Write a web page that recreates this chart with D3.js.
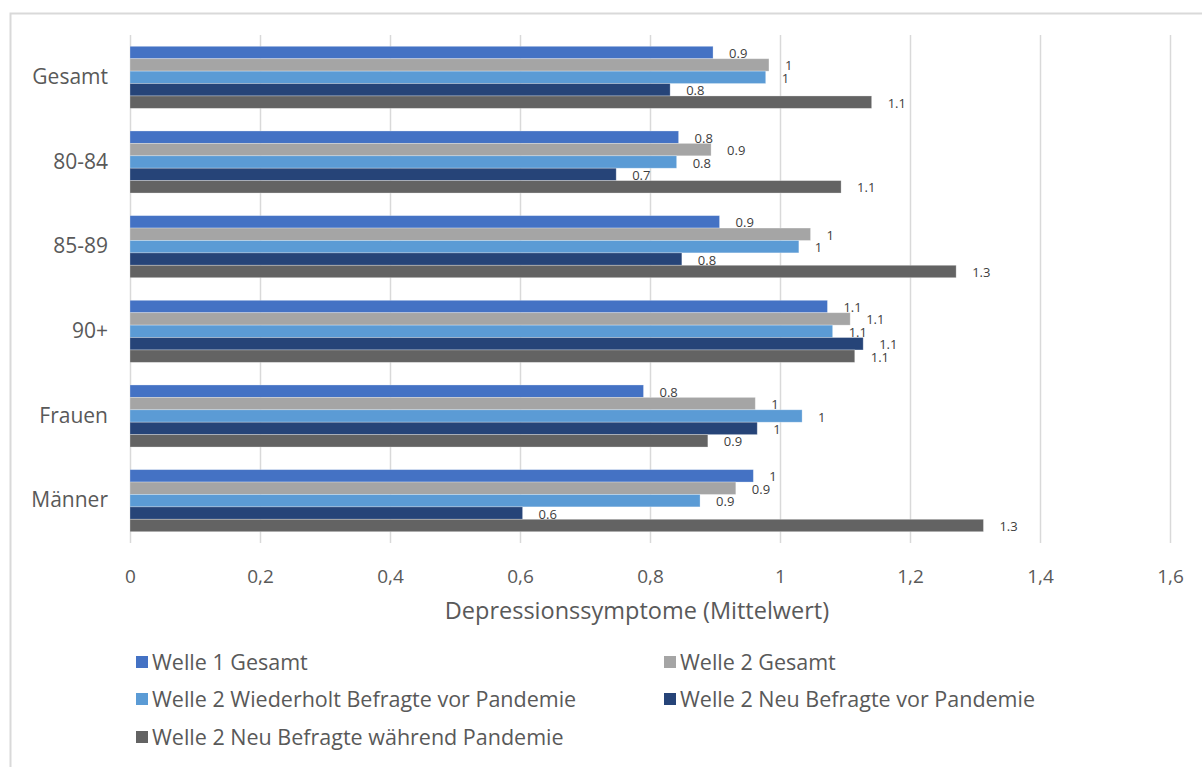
<!DOCTYPE html>
<html>
<head>
<meta charset="utf-8">
<script src="https://cdn.jsdelivr.net/npm/d3@7"></script>
<style>
  html, body { margin: 0; padding: 0; background: #fff; }
  svg { display: block; font-family: "Open Sans", Lato, sans-serif; }
</style>
</head>
<body>
<svg id="chart" width="1202" height="767"></svg>
<script>
// Categories (top to bottom)
const categories = ["Gesamt", "80-84", "85-89", "90+", "Frauen", "Männer"];

// Series names in legend order
const seriesNames = [
  "Welle 1 Gesamt",
  "Welle 2 Gesamt",
  "Welle 2 Wiederholt Befragte vor Pandemie",
  "Welle 2 Neu Befragte vor Pandemie",
  "Welle 2 Neu Befragte während Pandemie"
];

// Mean depression symptom scores per series, one value per category
const welle1Gesamt        = [0.897, 0.844, 0.907, 1.073, 0.790, 0.959];
const welle2Gesamt        = [0.983, 0.894, 1.047, 1.108, 0.962, 0.932];
const welle2Wiederholt    = [0.978, 0.841, 1.029, 1.081, 1.034, 0.877];
const welle2NeuVor        = [0.831, 0.748, 0.849, 1.128, 0.965, 0.604];
const welle2NeuWaehrend   = [1.141, 1.094, 1.271, 1.115, 0.889, 1.313];

const seriesValues = [welle1Gesamt, welle2Gesamt, welle2Wiederholt, welle2NeuVor, welle2NeuWaehrend];
const seriesColors = ["#4472C4", "#A5A5A5", "#5B9BD5", "#264478", "#636363"];

// X axis ticks
const xTicks = [0, 0.2, 0.4, 0.6, 0.8, 1, 1.2, 1.4, 1.6];
const xTitle = "Depressionssymptome (Mittelwert)";

const svg = d3.select("#chart");
const textColor = "#595959";
const gridColor = "#d9d9d9";
const font = "'Open Sans', Lato, sans-serif";

// Chart frame
svg.append("path")
  .attr("d", "M10.5,767 L10.5,13.5 L1202,13.5")
  .attr("fill", "none")
  .attr("stroke", gridColor)
  .attr("stroke-width", 2);

const plot = { left: 130, right: 1170, top: 35, bottom: 543 };

const x = d3.scaleLinear().domain([0, 1.6]).range([plot.left, plot.right]);
const y = d3.scaleBand().domain(categories).range([plot.top, plot.bottom])
  .paddingInner(0.267).paddingOuter(0.1335);
const ySub = d3.scaleBand().domain(d3.range(seriesNames.length)).range([0, y.bandwidth()]);

const deLocale = d3.formatLocale({ decimal: ",", thousands: ".", grouping: [3], currency: ["", "€"] });
const tickFmt = deLocale.format("~g");
const labelFmt = d3.format(".1~f");

// Vertical gridlines + tick labels
const xAxis = d3.axisBottom(x).tickValues(xTicks).tickFormat(tickFmt)
  .tickSize(-(plot.bottom - plot.top)).tickPadding(0);
const gx = svg.append("g").attr("transform", `translate(0,${plot.bottom})`).call(xAxis);
gx.select(".domain").remove();
gx.selectAll(".tick line").attr("stroke", gridColor).attr("stroke-width", 1.5);
gx.selectAll(".tick text")
  .attr("fill", textColor)
  .attr("font-size", 19)
  .attr("y", 33)
  .attr("dy", "0.35em")
  .style("font-family", font);

// Category labels
const yAxis = d3.axisLeft(y).tickSize(0).tickPadding(22);
const gy = svg.append("g").attr("transform", `translate(${plot.left},0)`).call(yAxis);
gy.select(".domain").remove();
gy.selectAll(".tick text")
  .attr("fill", textColor)
  .attr("font-size", 21)
  .style("font-family", font);

// Bars
const rows = [];
categories.forEach((c, ci) => {
  seriesValues.forEach((vals, si) => rows.push({ cat: c, s: si, v: vals[ci] }));
});

const bars = svg.append("g");
bars.selectAll("rect").data(rows).join("rect")
  .attr("x", x(0))
  .attr("y", d => y(d.cat) + ySub(d.s))
  .attr("width", d => x(d.v) - x(0))
  .attr("height", ySub.bandwidth())
  .attr("fill", d => seriesColors[d.s])
  .attr("stroke", "#ffffff")
  .attr("stroke-opacity", 0.35)
  .attr("stroke-width", 0.8);

// Value labels
svg.append("g").selectAll("text").data(rows).join("text")
  .attr("x", d => x(d.v) + 16)
  .attr("y", d => y(d.cat) + ySub(d.s) + ySub.bandwidth() / 2 + 1)
  .attr("dy", "0.35em")
  .attr("font-size", 13)
  .attr("fill", "#404040")
  .text(d => labelFmt(d.v));

// Axis title
svg.append("text")
  .attr("x", 637)
  .attr("y", 611)
  .attr("dy", "0.35em")
  .attr("text-anchor", "middle")
  .attr("font-size", 23.5)
  .attr("fill", textColor)
  .text(xTitle);

// Legend
const legendPos = [
  { x: 136, y: 662 }, { x: 664, y: 662 },
  { x: 136, y: 699 }, { x: 664, y: 699 },
  { x: 136, y: 737 }
];
const legend = svg.append("g").selectAll("g").data(seriesNames).join("g")
  .attr("transform", (d, i) => `translate(${legendPos[i].x},${legendPos[i].y})`);
legend.append("rect")
  .attr("x", 0).attr("y", -6).attr("width", 12).attr("height", 12)
  .attr("fill", (d, i) => seriesColors[i]);
legend.append("text")
  .attr("x", 16).attr("y", 0).attr("dy", "0.35em")
  .attr("font-size", 21.5)
  .attr("fill", textColor)
  .text(d => d);
</script>
</body>
</html>
